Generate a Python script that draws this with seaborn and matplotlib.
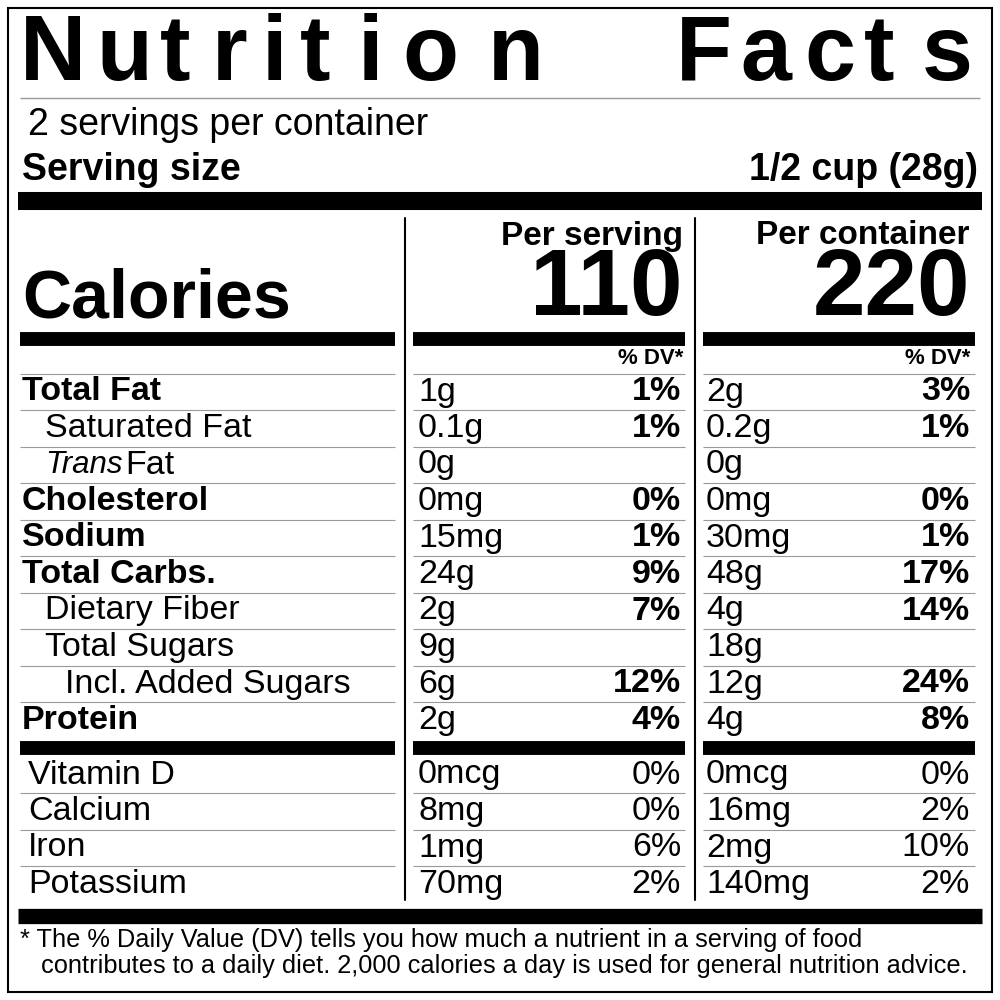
import matplotlib
matplotlib.use("Agg")
import matplotlib.pyplot as plt
import seaborn as sns

sns.set_style("white")
plt.rcParams['font.family'] = ['Liberation Sans', 'DejaVu Sans']
plt.rcParams['text.color'] = 'black'

title_left = "Nutrition"
title_right = "Facts"
servings = "2 servings per container"
serving_size = "1/2 cup (28g)"
cal_serving = "110"
cal_container = "220"
nutrients = ["Total Fat", "Saturated Fat", "Trans Fat", "Cholesterol", "Sodium",
             "Total Carbs.", "Dietary Fiber", "Total Sugars", "Incl. Added Sugars", "Protein"]
indent = [0, 1, 1, 0, 0, 0, 1, 1, 2, 0]
amt_serving = ["1g", "0.1g", "0g", "0mg", "15mg", "24g", "2g", "9g", "6g", "2g"]
dv_serving = ["1%", "1%", "", "0%", "1%", "9%", "7%", "", "12%", "4%"]
amt_container = ["2g", "0.2g", "0g", "0mg", "30mg", "48g", "4g", "18g", "12g", "4g"]
dv_container = ["3%", "1%", "", "0%", "1%", "17%", "14%", "", "24%", "8%"]
vitamins = ["Vitamin D", "Calcium", "Iron", "Potassium"]
vit_amt_serving = ["0mcg", "8mg", "1mg", "70mg"]
vit_dv_serving = ["0%", "0%", "6%", "2%"]
vit_amt_container = ["0mcg", "16mg", "2mg", "140mg"]
vit_dv_container = ["0%", "2%", "10%", "2%"]
footnote = ["* The % Daily Value (DV) tells you how much a nutrient in a serving of food",
            "   contributes to a daily diet. 2,000 calories a day is used for general nutrition advice."]

fig = plt.figure(figsize=(10, 10), dpi=100)
ax = fig.add_axes([0, 0, 1, 1])
ax.set_xlim(0, 1000); ax.set_ylim(1000, 0); ax.axis("off")

ax.add_patch(plt.Rectangle((8, 8), 984, 984, fill=False, lw=1.5, ec="black"))

FS = 24.5
xs_left = [20, 96, 160, 212, 262, 300, 358, 402, 488]
xs_right = [676, 740, 804, 864, 922]
for ch, x in zip(title_left, xs_left):
    ax.text(x, 56, ch, fontsize=66, fontweight="heavy", va="center", ha="left")
for ch, x in zip(title_right, xs_right):
    ax.text(x, 56, ch, fontsize=66, fontweight="heavy", va="center", ha="left")

def hline(y, x0, x1, lw, c="#999999"):
    ax.plot([x0, x1], [y, y], color=c, lw=lw, solid_capstyle="butt")

hline(98, 20, 980, 1)
ax.text(28, 125, servings, fontsize=27, va="center")
ax.text(22, 170, "Serving size", fontsize=27, fontweight="bold", va="center")
ax.text(978, 170, serving_size, fontsize=27, fontweight="bold", va="center", ha="right")
hline(201, 18, 982, 13, "black")

ax.plot([405, 405], [218, 900], color="black", lw=1.5)
ax.plot([695, 695], [218, 900], color="black", lw=1.5)

ax.text(683, 236, "Per serving", fontsize=24, fontweight="bold", va="center", ha="right")
ax.text(970, 236, "Per container", fontsize=24, fontweight="bold", va="center", ha="right")
ax.text(683, 290, cal_serving, fontsize=68, fontweight="bold", va="center", ha="right")
ax.text(970, 290, cal_container, fontsize=68, fontweight="bold", va="center", ha="right")
ax.text(22, 300, "Calories", fontsize=49, fontweight="bold", va="center")

segs = [(20, 395), (413, 685), (703, 975)]
def thick(y):
    for a, b in segs:
        hline(y, a, b, 10, "black")
def thin(y):
    for a, b in segs:
        hline(y, a, b, 0.8)

thick(339)
ax.text(683, 359, "% DV*", fontsize=16, fontweight="bold", va="center", ha="right")
ax.text(970, 359, "% DV*", fontsize=16, fontweight="bold", va="center", ha="right")
thin(374)

row_h = 36.5
for i, n in enumerate(nutrients):
    y = 392 + i * row_h
    bold = indent[i] == 0
    x = 22 + [0, 23, 43][indent[i]]
    if n == "Trans Fat":
        ax.text(x, y, "Trans", fontsize=FS * 0.92, style="italic", va="center")
        ax.text(x + 80, y, "Fat", fontsize=FS, va="center")
    else:
        ax.text(x, y, n, fontsize=FS, fontweight="bold" if bold else "normal", va="center")
    ax.text(418, y, amt_serving[i], fontsize=FS, va="center")
    ax.text(681, y, dv_serving[i], fontsize=FS, fontweight="bold", va="center", ha="right")
    ax.text(706, y, amt_container[i], fontsize=FS, va="center")
    ax.text(970, y, dv_container[i], fontsize=FS, fontweight="bold", va="center", ha="right")
    if i < len(nutrients) - 1:
        thin(y + row_h / 2)

thick(748)
for i, n in enumerate(vitamins):
    y = 775 + i * 36.5
    ax.text(28, y, n, fontsize=FS, va="center")
    ax.text(418, y, vit_amt_serving[i], fontsize=FS, va="center")
    ax.text(681, y, vit_dv_serving[i], fontsize=FS, va="center", ha="right")
    ax.text(706, y, vit_amt_container[i], fontsize=FS, va="center")
    ax.text(970, y, vit_dv_container[i], fontsize=FS, va="center", ha="right")
    if i < len(vitamins) - 1:
        thin(y + 18)

hline(916, 18, 982, 11, "black")
ax.text(20, 940, footnote[0], fontsize=18.3, va="center")
ax.text(20, 966, footnote[1], fontsize=18.3, va="center")

fig.savefig("out.png", dpi=100)
